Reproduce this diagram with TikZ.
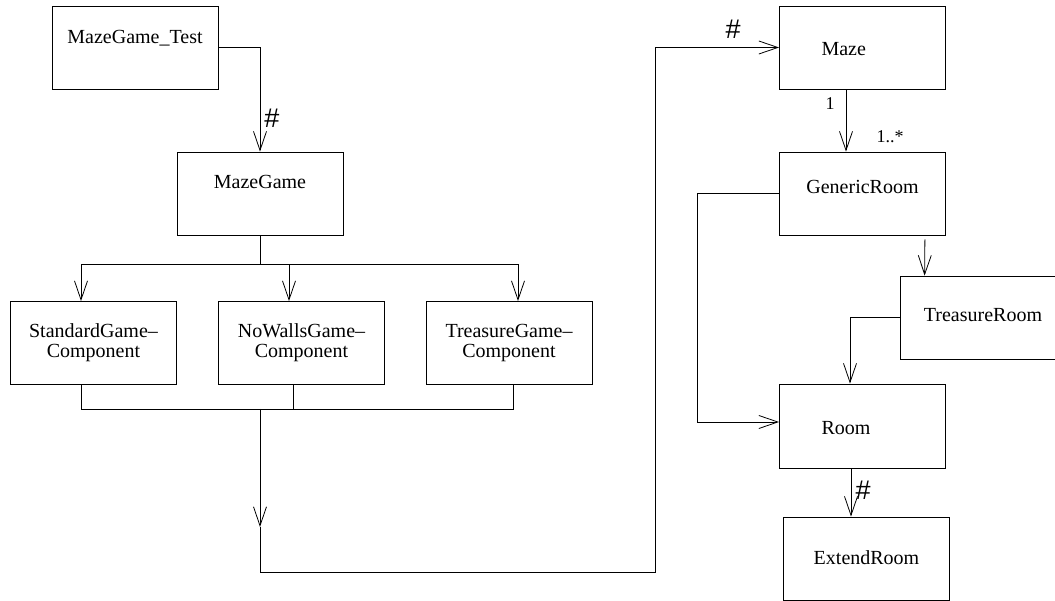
\documentclass[tikz,border=0pt]{standalone}
\usepackage{fontspec}
\setmainfont{Liberation Serif}
\newfontfamily\hashfont{Liberation Sans}
\usetikzlibrary{arrows.meta,calc}

\tikzset{
  classbox/.style={draw, minimum width=166pt, minimum height=83pt, inner sep=0pt,
    font=\fontsize{20}{20}\selectfont},
  leftbox/.style={text width=82pt, align=left, inner xsep=42pt},
  arr/.style={-{Straight Barb[length=19pt,width=13pt]}},
  hash/.style={inner sep=0pt, font=\hashfont\fontsize{27}{27}\selectfont},
  mult/.style={inner sep=0pt, font=\fontsize{18}{18}\selectfont}
}

\begin{document}
\begin{tikzpicture}[x=1pt,y=-1pt,line width=0.8pt]
\useasboundingbox (0,0) rectangle (1055,601);

% game side
\node[classbox,text height=38pt,text depth=45pt] (test) at (135,47.5) {MazeGame\_Test};
\node[classbox,text height=37pt,text depth=46pt] (mazegame) at (260,193.5) {MazeGame};
\node[classbox,align=center] (standard) at (93.5,343) {StandardGame--\\Component};
\node[classbox,align=center] (nowalls) at (301.5,343) {NoWallsGame--\\Component};
\node[classbox,align=center] (treasuregame) at (509,343) {TreasureGame--\\Component};

% room side
\node[classbox,leftbox,text height=50pt,text depth=33pt] (maze) at (862.5,47.5) {Maze};
\node[classbox,text height=42pt,text depth=41pt] (generic) at (862.5,193.5) {GenericRoom};
\node[classbox,text height=46pt,text depth=37pt] (troom) at (983,317.5) {TreasureRoom};
\node[classbox,leftbox,text height=51pt,text depth=33pt] (room) at (862.5,426) {Room};
\node[classbox,text height=47pt,text depth=36pt] (extend) at (866.5,558.5) {ExtendRoom};

\draw[arr] (test.east) -| (mazegame.north);
\node[hash] (h1) at (272,118) {\#};

\coordinate (split) at (260,264);
\draw (mazegame.south) -- (split);
\draw[arr] (split) -| ($(standard.north)+(-12.5,0)$);
\draw[arr] (split) -| ($(nowalls.north)+(-12.5,0)$);
\draw[arr] (split) -| ($(treasuregame.north)+(9,0)$);

\coordinate (join) at (260,409);
\draw ($(standard.south)+(-12.5,0)$) |- (join);
\draw ($(treasuregame.south)+(4,0)$) |- (join);
\draw ($(nowalls.south)+(-8.5,0)$) -- ($(nowalls.south)+(-8.5,25)$);

% long way round to the maze
\coordinate (mid) at (260,527);
\coordinate (turn) at (655,572);
\draw[arr] (join) -- (mid);
\draw[arr] (mid) |- (turn) |- (maze.west);
\node[hash] (h2) at (733,29) {\#};

\draw[arr] ($(maze.south)+(-16.5,0)$) -- ($(generic.north)+(-16.5,0)$);
\node[mult] (one) at (830,104) {1};
\node[mult] (many) at (890,137) {1..*};

\draw[arr] (generic.west) -- ++(-82,0) |- ($(room.west)+(0,-4)$);
\draw[arr] ($(generic.south east)+(-21,4)$) -- ($(troom.north west)+(25,0)$);
\draw[arr] (troom.west) -| ($(room.north)+(-12.5,0)$);
\draw[arr] ($(room.south)+(-11.5,0)$) -- ($(extend.north)+(-15.5,0)$);
\node[hash] (h3) at (863,490) {\#};
\end{tikzpicture}
\end{document}
